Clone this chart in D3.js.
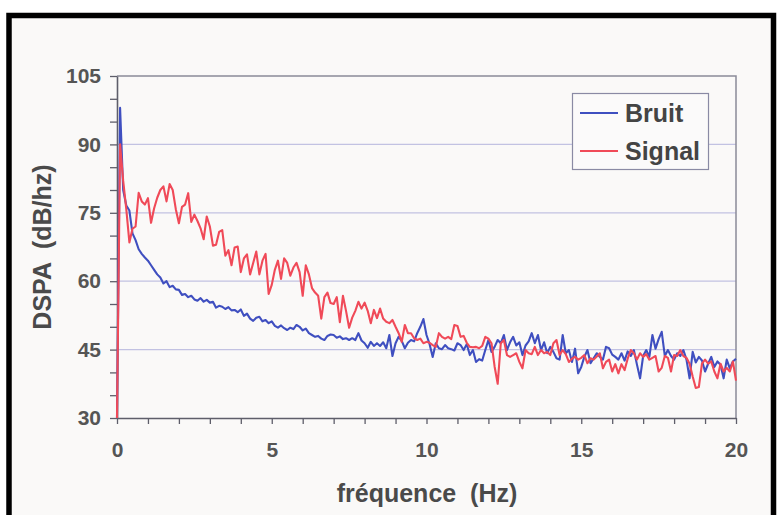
<!DOCTYPE html>
<html><head><meta charset="utf-8">
<script src="https://cdn.jsdelivr.net/npm/d3@7"></script>
<style>html,body{margin:0;padding:0;background:#fff;} svg{display:block;}</style>
</head><body><svg id="c" width="777" height="515"></svg>
<script>
const freqStep = 0.1;
const bruit = [
 30, 98, 80, 76.6, 75.5, 70.5, 69, 67, 66, 65.2,
 64.5, 63.5, 62.5, 61.5, 60.8, 59.5, 60, 58.7, 59, 58.2,
 58.1, 57, 57.2, 56.5, 56.8, 56, 55.7, 56.3, 55.5, 55.9,
 55.3, 55.5, 54.2, 54.6, 54.4, 53.9, 54.3, 53.6, 53.7, 53.2,
 53.8, 52.4, 52.9, 51.8, 51.3, 52.0, 52.2, 51.2, 51.5, 50.8,
 51.2, 50.2, 49.8, 50.3, 49.7, 49.3, 49.8, 49.5, 50.4, 50.0,
 49.2, 49.6, 48.6, 48.2, 47.8, 48.0, 47.4, 47.1, 48.0, 48.3,
 48.2, 47.6, 47.9, 47.3, 47.5, 47.1, 47.5, 47.1, 48.6, 47.0,
 46.4, 45.4, 46.7, 45.8, 46.4, 45.8, 46.6, 45.3, 48.2, 43.6,
 46.4, 47.8, 46.9, 45.3, 46.5, 47.1, 46.8, 48.6, 50.0, 51.7,
 48.2, 46.2, 43.4, 46.4, 45.3, 45.1, 46.0, 45.3, 45.1, 44.8,
 46.4, 46.0, 44.9, 46.2, 43.8, 44.9, 42.3, 42.9, 42.6, 44.9,
 47.1, 44.5, 45.6, 47.1, 46.4, 48.2, 44.9, 46.6, 47.8, 45.9,
 46.6, 43.8, 45.9, 46.8, 48.6, 46.4, 48.2, 44.9, 46.6, 44.2,
 45.6, 44.5, 43.1, 42.8, 48.2, 44.2, 44.9, 42.3, 45.2, 39.8,
 41.2, 43.4, 44.9, 42.0, 43.1, 44.2, 43.4, 42.8, 45.6, 45.3,
 43.9, 43.4, 42.8, 44.2, 42.6, 44.6, 43.6, 44.9, 41.7, 38.7,
 43.6, 44.9, 43.4, 48.2, 45.2, 47.3, 48.9, 43.6, 44.9, 43.6,
 42.8, 44.2, 43.6, 44.9, 42.8, 38.7, 44.5, 42.2, 43.4, 42.6,
 40.2, 41.9, 43.4, 41.2, 42.4, 41.7, 38.7, 42.8, 40.9, 42.4,
 43.0
];
const signal = [
 30, 90, 82, 75.8, 68.5, 71.5, 72, 79.4, 77.5, 76.8,
 78.2, 72.8, 76.0, 78.3, 80.0, 80.8, 77.5, 81.3, 80.0, 75.8,
 72.7, 76.3, 76.8, 79.3, 73.0, 74.6, 73.2, 71.6, 69.2, 74.2,
 72.0, 67.8, 68.0, 70.8, 71.2, 65.6, 66.8, 63.5, 67.4, 67.6,
 62.0, 65.0, 65.9, 61.5, 64.0, 66.5, 61.5, 64.5, 66.0, 57.2,
 59.2, 62.5, 64.5, 60.5, 65.0, 64.0, 61.2, 63.0, 64.0, 62.0,
 56.8, 63.5, 61.5, 58.5, 57.5, 56.8, 51.8, 56.5, 57.5, 55.2,
 55.0, 56.5, 51.0, 56.8, 53.5, 49.8, 52.0, 53.5, 55.5, 54.0,
 55.3, 53.5, 50.8, 53.7, 51.9, 54.0, 51.8, 51.1, 50.8, 51.5,
 50.0, 48.6, 46.7, 50.4, 48.6, 48.6, 47.5, 47.1, 47.4, 46.4,
 46.7, 46.5, 46.0, 45.6, 48.6, 47.8, 47.4, 47.8, 47.3, 50.4,
 50.2, 47.8, 48.0, 46.5, 45.6, 45.5, 45.6, 45.3, 45.8, 47.8,
 47.4, 46.4, 41.3, 37.5, 46.4, 47.1, 43.8, 43.4, 43.8, 44.2,
 42.3, 40.9, 44.9, 44.2, 44.0, 45.6, 43.8, 44.9, 44.2, 44.5,
 43.8, 46.4, 47.1, 43.8, 44.9, 44.0, 42.3, 43.0, 43.4, 42.8,
 43.2, 43.8, 42.0, 43.1, 42.8, 43.5, 44.2, 40.9, 42.3, 42.8,
 40.2, 41.8, 39.8, 41.8, 40.5, 43.0, 44.9, 44.2, 42.8, 44.2,
 43.4, 44.0, 42.8, 43.2, 43.6, 40.2, 41.0, 43.6, 43.2, 40.2,
 43.8, 43.6, 44.9, 43.6, 43.2, 41.9, 39.1, 36.6, 36.8, 41.9,
 42.8, 41.9, 42.4, 40.2, 38.7, 41.9, 40.2, 41.0, 40.2, 42.4,
 38.2
];
const yTickLabels = [30, 45, 60, 75, 90, 105];
const yGridValues = [45, 60, 75, 90];
const xTickLabels = [0, 5, 10, 15, 20];
const seriesNames = ["Bruit", "Signal"];
const seriesColors = ["#3f4fc0", "#f04a58"];
const xTitle = "fréquence  (Hz)";
const yTitle = "DSPA  (dB/hz)";

const svg = d3.select("#c");
const W = 777, H = 515;
const L = 117, R = 736, T = 76, B = 418;
const font = "'Liberation Sans', Arial, sans-serif";
const textCol = "#4a4a4a";

// page background and black frame
svg.append("rect").attr("x",0).attr("y",0).attr("width",W).attr("height",H).attr("fill","#ffffff");
svg.append("rect").attr("x",9).attr("y",15).attr("width",764).attr("height",H).attr("fill","#faf9f8");
svg.append("path").attr("d",`M9,${H+5} V15.5 H773.5 V${H+5}`)
  .attr("fill","none").attr("stroke","#000").attr("stroke-width",5.5);

const x = d3.scaleLinear().domain([0, 20]).range([L, R]);
const y = d3.scaleLinear().domain([30, 105]).range([B, T]);

// gridlines
svg.append("g").selectAll("line").data(yGridValues).join("line")
  .attr("x1", L).attr("x2", R).attr("y1", d => y(d)).attr("y2", d => y(d))
  .attr("stroke", "#c2c2e2").attr("stroke-width", 1.2);

// frame top & right
svg.append("path").attr("d", `M${L},${y(105)} H${x(20)} V${B}`)
  .attr("fill","none").attr("stroke","#8a8a98").attr("stroke-width",1.5);

// axes
const yAxis = d3.axisLeft(y).tickValues(d3.range(30, 106, 5)).tickSize(7).tickSizeOuter(0)
  .tickPadding(9).tickFormat(d => yTickLabels.includes(d) ? d : "");
const gy = svg.append("g").attr("transform", `translate(${L},0)`).call(yAxis);
const xAxis = d3.axisBottom(x).tickValues(d3.range(0, 21, 1)).tickSize(6).tickSizeOuter(0)
  .tickPadding(18).tickFormat(d => xTickLabels.includes(d) ? d : "");
const gx = svg.append("g").attr("transform", `translate(0,${B})`).call(xAxis);
[gy, gx].forEach(g => {
  g.select(".domain").attr("stroke", "#5e5e6a").attr("stroke-width", 1.6);
  g.selectAll(".tick line").attr("stroke", "#5e5e6a").attr("stroke-width", 1.3);
  g.selectAll(".tick text").attr("font-family", font).attr("font-weight", "bold")
    .attr("font-size", 21).attr("fill", "#555");
});

// series
const freqs = bruit.map((_, i) => +(i * freqStep).toFixed(2));
const line = d3.line().x((d, i) => x(freqs[i])).y(d => y(d));
[bruit, signal].forEach((s, k) => {
  svg.append("path").datum(s).attr("d", line)
    .attr("fill", "none").attr("stroke", seriesColors[k]).attr("stroke-width", 2.1)
    .attr("stroke-linejoin", "round");
});

// axis titles
svg.append("text").attr("x", 427).attr("y", 493).attr("dy", "0.35em")
  .attr("text-anchor", "middle").attr("font-family", font).attr("font-weight", "bold")
  .attr("font-size", 25).attr("fill", textCol)
  .style("white-space","pre").text(xTitle);
svg.append("text").attr("transform", "translate(42,247) rotate(-90)").attr("dy", "0.35em")
  .attr("text-anchor", "middle").attr("font-family", font).attr("font-weight", "bold")
  .attr("font-size", 25).attr("fill", textCol)
  .style("white-space","pre").text(yTitle);

// legend
const lg = svg.append("g");
lg.append("rect").attr("x", 572.5).attr("y", 93.5).attr("width", 136).attr("height", 76)
  .attr("fill", "#fbfafa").attr("stroke", "#8a8aa4").attr("stroke-width", 1.2);
seriesNames.forEach((n, k) => {
  const yy = 113 + k * 38;
  lg.append("line").attr("x1", 580).attr("x2", 618).attr("y1", yy).attr("y2", yy)
    .attr("stroke", seriesColors[k]).attr("stroke-width", 2.2);
  lg.append("text").attr("x", 625).attr("y", yy).attr("dy", "0.36em")
    .attr("font-family", font).attr("font-weight", "bold").attr("font-size", 25)
    .attr("fill", "#444").text(n);
});
</script>
</body></html>
